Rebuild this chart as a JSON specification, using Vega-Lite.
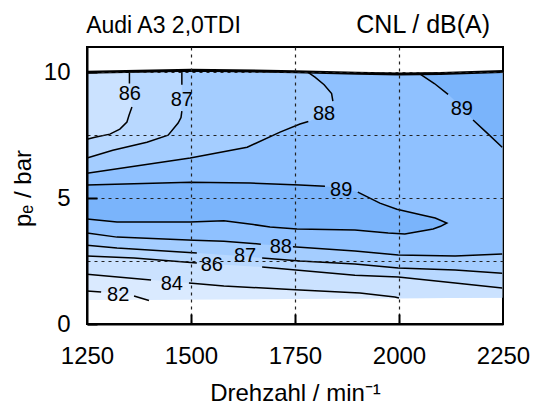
{
  "$schema": "https://vega.github.io/schema/vega-lite/v6.json",
  "width": 416,
  "height": 277,
  "autosize": "none",
  "padding": {"left": 87, "top": 47, "right": 31, "bottom": 84},
  "background": "white",
  "config": {"view": {"stroke": "black", "strokeWidth": 2}, "font": "Liberation Sans"},
  "datasets": {
    "P0": [{"x":1250,"y":0.95},{"x":1500,"y":0.97},{"x":2000,"y":1.02},{"x":2248,"y":1.04},{"x":2248,"y":10.03},{"x":2100,"y":9.95},{"x":2000,"y":9.93},{"x":1900,"y":9.96},{"x":1750,"y":10.02},{"x":1500,"y":10.08},{"x":1250,"y":10.0}],
    "P1": [{"x":1250,"y":1.31},{"x":1284,"y":1.27},{"x":1325,"y":1.19},{"x":1363,"y":1.11},{"x":1399,"y":0.95},{"x":1500,"y":0.97},{"x":2000,"y":1.02},{"x":2248,"y":1.04},{"x":2248,"y":10.03},{"x":2100,"y":9.95},{"x":2000,"y":9.93},{"x":1900,"y":9.96},{"x":1750,"y":10.02},{"x":1500,"y":10.08},{"x":1250,"y":10.0}],
    "P2": [{"x":1250,"y":1.98},{"x":1404,"y":1.75},{"x":1454,"y":1.69},{"x":1495,"y":1.63},{"x":1579,"y":1.51},{"x":1762,"y":1.35},{"x":1906,"y":1.23},{"x":1990,"y":1.07},{"x":2000,"y":1.02},{"x":2248,"y":1.04},{"x":2248,"y":10.03},{"x":2100,"y":9.95},{"x":2000,"y":9.93},{"x":1900,"y":9.96},{"x":1750,"y":10.02},{"x":1500,"y":10.08},{"x":1250,"y":10.0}],
    "P3": [{"x":1250,"y":2.70},{"x":1363,"y":2.62},{"x":1512,"y":2.42},{"x":1590,"y":2.34},{"x":1671,"y":2.26},{"x":1894,"y":1.94},{"x":1998,"y":1.87},{"x":2135,"y":1.63},{"x":2248,"y":1.43},{"x":2248,"y":10.03},{"x":2100,"y":9.95},{"x":2000,"y":9.93},{"x":1900,"y":9.96},{"x":1750,"y":10.02},{"x":1500,"y":10.08},{"x":1250,"y":10.0}],
    "P4": [{"x":1250,"y":3.13},{"x":1322,"y":3.02},{"x":1514,"y":2.82},{"x":1600,"y":2.72},{"x":1671,"y":2.62},{"x":1762,"y":2.5},{"x":1894,"y":2.38},{"x":1998,"y":2.22},{"x":2135,"y":2.14},{"x":2248,"y":2.02},{"x":2248,"y":10.03},{"x":2100,"y":9.95},{"x":2000,"y":9.93},{"x":1900,"y":9.96},{"x":1750,"y":10.02},{"x":1500,"y":10.08},{"x":1250,"y":10.0}],
    "P5": [{"x":1250,"y":3.61},{"x":1322,"y":3.45},{"x":1507,"y":3.33},{"x":1579,"y":3.29},{"x":1666,"y":3.17},{"x":1716,"y":3.11},{"x":1755,"y":3.06},{"x":1894,"y":2.9},{"x":1998,"y":2.74},{"x":2135,"y":2.7},{"x":2248,"y":2.78},{"x":2248,"y":10.03},{"x":2100,"y":9.95},{"x":2000,"y":9.93},{"x":1900,"y":9.96},{"x":1750,"y":10.02},{"x":1500,"y":10.08},{"x":1250,"y":10.0}],
    "P6": [{"x":1250,"y":5.52},{"x":1498,"y":5.63},{"x":1642,"y":5.6},{"x":1762,"y":5.52},{"x":1817,"y":5.48},{"x":1861,"y":5.38},{"x":1901,"y":5.24},{"x":1954,"y":4.8},{"x":1995,"y":4.56},{"x":2055,"y":4.33},{"x":2087,"y":4.21},{"x":2115,"y":4.01},{"x":2100,"y":3.88},{"x":2082,"y":3.77},{"x":2055,"y":3.69},{"x":2014,"y":3.57},{"x":1974,"y":3.61},{"x":1894,"y":3.73},{"x":1755,"y":3.77},{"x":1690,"y":3.85},{"x":1650,"y":3.95},{"x":1579,"y":4.1},{"x":1498,"y":4.05},{"x":1322,"y":4.05},{"x":1250,"y":4.17}],
    "P7": [{"x":1250,"y":5.99},{"x":1498,"y":6.59},{"x":1635,"y":7.02},{"x":1714,"y":7.62},{"x":1762,"y":7.94},{"x":1786,"y":8.06},{"x":1820,"y":8.35},{"x":1841,"y":8.75},{"x":1838,"y":9.15},{"x":1820,"y":9.5},{"x":1798,"y":9.8},{"x":1779,"y":10.02},{"x":1750,"y":10.02},{"x":1500,"y":10.08},{"x":1250,"y":10.0}],
    "P8": [{"x":1250,"y":6.59},{"x":1312,"y":6.9},{"x":1394,"y":7.22},{"x":1445,"y":7.5},{"x":1469,"y":7.98},{"x":1476,"y":8.41},{"x":1478,"y":8.9},{"x":1478,"y":9.5},{"x":1478,"y":10.07},{"x":1250,"y":10.0}],
    "P9": [{"x":1250,"y":7.34},{"x":1269,"y":7.42},{"x":1305,"y":7.54},{"x":1329,"y":7.74},{"x":1346,"y":8.02},{"x":1351,"y":8.29},{"x":1358,"y":8.62},{"x":1355,"y":9.13},{"x":1352,"y":9.55},{"x":1352,"y":10.04},{"x":1250,"y":10.0}],
    "P10": [{"x":2050,"y":9.93},{"x":2085,"y":9.55},{"x":2115,"y":9.17},{"x":2151,"y":8.6},{"x":2178,"y":8.1},{"x":2212,"y":7.58},{"x":2248,"y":7.02},{"x":2248,"y":10.03},{"x":2100,"y":9.95},{"x":2050,"y":9.93}],
    "lines": [
      {"g":"86a","x":1352,"y":10.02},{"g":"86a","x":1352,"y":9.55},
      {"g":"86b","x":1358,"y":8.62},{"g":"86b","x":1351,"y":8.29},{"g":"86b","x":1346,"y":8.02},{"g":"86b","x":1329,"y":7.74},{"g":"86b","x":1305,"y":7.54},{"g":"86b","x":1269,"y":7.42},{"g":"86b","x":1250,"y":7.34},
      {"g":"87a","x":1478,"y":10.06},{"g":"87a","x":1478,"y":9.5},
      {"g":"87b","x":1478,"y":8.45},{"g":"87b","x":1476,"y":8.2},{"g":"87b","x":1469,"y":7.98},{"g":"87b","x":1445,"y":7.5},{"g":"87b","x":1394,"y":7.22},{"g":"87b","x":1312,"y":6.9},{"g":"87b","x":1250,"y":6.59},
      {"g":"88a","x":1250,"y":5.99},{"g":"88a","x":1498,"y":6.59},{"g":"88a","x":1635,"y":7.02},{"g":"88a","x":1714,"y":7.62},{"g":"88a","x":1762,"y":7.94},{"g":"88a","x":1782,"y":8.04},
      {"g":"88b","x":1841,"y":8.85},{"g":"88b","x":1838,"y":9.15},{"g":"88b","x":1820,"y":9.5},{"g":"88b","x":1798,"y":9.8},{"g":"88b","x":1779,"y":10.02},
      {"g":"89a","x":2050,"y":9.93},{"g":"89a","x":2085,"y":9.55},{"g":"89a","x":2118,"y":9.12},
      {"g":"89b","x":2178,"y":8.1},{"g":"89b","x":2212,"y":7.58},{"g":"89b","x":2248,"y":7.02},
      {"g":"L1","x":1250,"y":5.52},{"g":"L1","x":1498,"y":5.63},{"g":"L1","x":1642,"y":5.6},{"g":"L1","x":1762,"y":5.52},{"g":"L1","x":1822,"y":5.47},
      {"g":"L2","x":1901,"y":5.24},{"g":"L2","x":1954,"y":4.8},{"g":"L2","x":1995,"y":4.56},{"g":"L2","x":2055,"y":4.33},{"g":"L2","x":2087,"y":4.21},{"g":"L2","x":2115,"y":4.01},{"g":"L2","x":2100,"y":3.88},{"g":"L2","x":2082,"y":3.77},{"g":"L2","x":2055,"y":3.69},{"g":"L2","x":2014,"y":3.57},{"g":"L2","x":1974,"y":3.61},{"g":"L2","x":1894,"y":3.73},{"g":"L2","x":1755,"y":3.77},{"g":"L2","x":1690,"y":3.85},{"g":"L2","x":1650,"y":3.95},{"g":"L2","x":1579,"y":4.1},{"g":"L2","x":1498,"y":4.05},{"g":"L2","x":1322,"y":4.05},{"g":"L2","x":1250,"y":4.17},
      {"g":"88La","x":1250,"y":3.61},{"g":"88La","x":1322,"y":3.45},{"g":"88La","x":1507,"y":3.33},{"g":"88La","x":1579,"y":3.29},{"g":"88La","x":1668,"y":3.17},
      {"g":"88Lb","x":1745,"y":3.07},{"g":"88Lb","x":1894,"y":2.9},{"g":"88Lb","x":1998,"y":2.74},{"g":"88Lb","x":2135,"y":2.7},{"g":"88Lb","x":2248,"y":2.78},
      {"g":"87La","x":1250,"y":3.13},{"g":"87La","x":1322,"y":3.02},{"g":"87La","x":1514,"y":2.82},
      {"g":"87Lb","x":1671,"y":2.62},{"g":"87Lb","x":1762,"y":2.5},{"g":"87Lb","x":1894,"y":2.38},{"g":"87Lb","x":1998,"y":2.22},{"g":"87Lb","x":2135,"y":2.14},{"g":"87Lb","x":2248,"y":2.02},
      {"g":"86La","x":1250,"y":2.70},{"g":"86La","x":1363,"y":2.62},{"g":"86La","x":1514,"y":2.42},
      {"g":"86Lb","x":1671,"y":2.26},{"g":"86Lb","x":1894,"y":1.94},{"g":"86Lb","x":1998,"y":1.87},{"g":"86Lb","x":2135,"y":1.63},{"g":"86Lb","x":2248,"y":1.43},
      {"g":"84a","x":1250,"y":1.98},{"g":"84a","x":1404,"y":1.75},
      {"g":"84b","x":1495,"y":1.63},{"g":"84b","x":1579,"y":1.51},{"g":"84b","x":1762,"y":1.35},{"g":"84b","x":1906,"y":1.23},{"g":"84b","x":1990,"y":1.07},{"g":"84b","x":2000,"y":1.03},
      {"g":"82a","x":1250,"y":1.31},{"g":"82a","x":1284,"y":1.27},
      {"g":"82b","x":1363,"y":1.11},{"g":"82b","x":1399,"y":0.93}
    ],
    "topline": [{"x":1250,"y":10.0},{"x":1500,"y":10.08},{"x":1750,"y":10.02},{"x":1900,"y":9.96},{"x":2000,"y":9.93},{"x":2100,"y":9.95},{"x":2250,"y":10.03}],
    "labels": [
      {"t":"86","x":1353,"y":9.13},{"t":"87","x":1478,"y":8.89},{"t":"88","x":1820,"y":8.33},{"t":"89","x":2151,"y":8.53},{"t":"89","x":1861,"y":5.32},
      {"t":"88","x":1716,"y":3.06},{"t":"87","x":1630,"y":2.7},{"t":"86","x":1550,"y":2.34},{"t":"84","x":1454,"y":1.59},{"t":"82","x":1325,"y":1.15}
    ]
  },
  "layer": [
    {
      "encoding": {
        "x": {"field": "x", "type": "quantitative",
          "scale": {"domain": [1250, 2250], "nice": false, "zero": false},
          "axis": {"title": "Drehzahl / min⁻¹", "values": [1250, 1500, 1750, 2000, 2250], "format": "d",
            "grid": true, "gridDash": [3, 4], "gridColor": "#222222", "gridWidth": 1.2,
            "gridOpacity": {"condition": {"test": "datum.value == 1250 || datum.value == 2250", "value": 0}, "value": 1},
            "tickSize": -10, "tickColor": "black", "tickWidth": 2,
            "tickOpacity": {"condition": {"test": "datum.value == 1250 || datum.value == 2250", "value": 0}, "value": 1},
            "domainColor": "black", "domainWidth": 2,
            "labelFontSize": 24, "labelFont": "Liberation Sans", "labelColor": "black", "labelPadding": 30, "labelFlush": false, "labelOverlap": false,
            "titleFontSize": 24, "titleFont": "Liberation Sans", "titleFontWeight": "normal", "titleColor": "black", "titleY": 76, "titleBaseline": "alphabetic",
            "zindex": 1}},
        "y": {"field": "y", "type": "quantitative",
          "scale": {"domain": [0, 11], "nice": false, "zero": false},
          "axis": {"title": "pₑ / bar", "values": [0, 2.5, 5, 7.5, 10],
            "labelExpr": "datum.value % 5 == 0 ? format(datum.value, 'd') : ''",
            "grid": true, "gridDash": [3, 4], "gridColor": "#222222", "gridWidth": 1.2,
            "gridOpacity": {"condition": {"test": "datum.value == 0", "value": 0}, "value": 1},
            "tickSize": -10, "tickColor": "black", "tickWidth": 2,
            "tickOpacity": {"condition": {"test": "datum.value % 5 != 0", "value": 0}, "value": 1},
            "domainColor": "black", "domainWidth": 2,
            "labelFontSize": 24, "labelFont": "Liberation Sans", "labelColor": "black", "labelPadding": 27, "labelOverlap": false,
            "titleFontSize": 24, "titleFont": "Liberation Sans", "titleFontWeight": "normal", "titleColor": "black",
            "titleAngle": -90, "titleX": -57, "titleY": 141, "titleBaseline": "alphabetic", "titleAlign": "center",
            "zindex": 1}}
      },
      "layer": [
        {"data": {"name": "P0"}, "mark": {"type": "line", "fill": "#e8f2ff", "strokeWidth": 0}, "encoding": {"order": {"value": null}}},
        {"data": {"name": "P1"}, "mark": {"type": "line", "fill": "#daeaff", "strokeWidth": 0}, "encoding": {"order": {"value": null}}},
        {"data": {"name": "P2"}, "mark": {"type": "line", "fill": "#cbe2ff", "strokeWidth": 0}, "encoding": {"order": {"value": null}}},
        {"data": {"name": "P3"}, "mark": {"type": "line", "fill": "#b8d8ff", "strokeWidth": 0}, "encoding": {"order": {"value": null}}},
        {"data": {"name": "P4"}, "mark": {"type": "line", "fill": "#a4cdff", "strokeWidth": 0}, "encoding": {"order": {"value": null}}},
        {"data": {"name": "P5"}, "mark": {"type": "line", "fill": "#8fc1ff", "strokeWidth": 0}, "encoding": {"order": {"value": null}}},
        {"data": {"name": "P6"}, "mark": {"type": "line", "fill": "#7ab4fb", "strokeWidth": 0}, "encoding": {"order": {"value": null}}},
        {"data": {"name": "P7"}, "mark": {"type": "line", "fill": "#a4cdff", "strokeWidth": 0}, "encoding": {"order": {"value": null}}},
        {"data": {"name": "P8"}, "mark": {"type": "line", "fill": "#b8d8ff", "strokeWidth": 0}, "encoding": {"order": {"value": null}}},
        {"data": {"name": "P9"}, "mark": {"type": "line", "fill": "#cbe2ff", "strokeWidth": 0}, "encoding": {"order": {"value": null}}},
        {"data": {"name": "P10"}, "mark": {"type": "line", "fill": "#7ab4fb", "strokeWidth": 0}, "encoding": {"order": {"value": null}}},
        {"data": {"name": "lines"}, "mark": {"type": "line", "color": "black", "strokeWidth": 1.5}, "encoding": {"detail": {"field": "g"}, "order": {"value": null}}},
        {"data": {"name": "topline"}, "mark": {"type": "line", "color": "black", "strokeWidth": 3}, "encoding": {"order": {"value": null}}},
        {"data": {"name": "labels"}, "mark": {"type": "text", "fontSize": 20, "font": "Liberation Sans", "color": "black", "align": "center", "baseline": "middle"}, "encoding": {"text": {"field": "t"}}}
      ]
    },
    {"data": {"values": [{"t": "Audi A3 2,0TDI"}]}, "mark": {"type": "text", "fontSize": 23, "font": "Liberation Sans", "color": "black", "align": "left", "baseline": "alphabetic", "clip": false},
      "encoding": {"x": {"datum": 1248, "type": "quantitative"}, "y": {"datum": 11.56, "type": "quantitative"}, "text": {"field": "t"}}},
    {"data": {"values": [{"t": "CNL / dB(A)"}]}, "mark": {"type": "text", "fontSize": 25, "font": "Liberation Sans", "color": "black", "align": "right", "baseline": "alphabetic", "clip": false},
      "encoding": {"x": {"datum": 2219, "type": "quantitative"}, "y": {"datum": 11.56, "type": "quantitative"}, "text": {"field": "t"}}}
  ]
}
